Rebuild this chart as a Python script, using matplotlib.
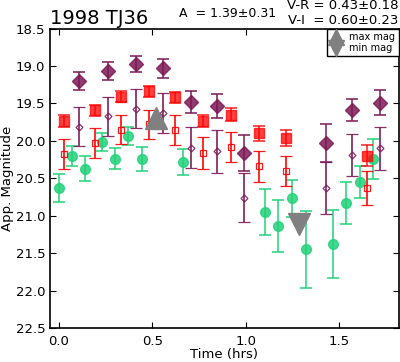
import matplotlib
matplotlib.use("Agg")
import matplotlib.pyplot as plt
import numpy as np

# Green filled circles (V)
t_v = [0.000, 0.070, 0.139, 0.229, 0.302, 0.371, 0.446, 0.666, 1.103, 1.175, 1.250, 1.323, 1.466, 1.536, 1.611, 1.684]
m_v = [20.63, 20.20, 20.37, 20.01, 20.24, 19.94, 20.24, 20.28, 20.95, 21.14, 20.77, 21.45, 21.38, 20.83, 20.55, 20.24]
e_v = [0.19, 0.13, 0.165, 0.12, 0.14, 0.12, 0.16, 0.17, 0.31, 0.35, 0.25, 0.51, 0.45, 0.28, 0.22, 0.27]

# Red filled squares (R) and shifted open squares
t_r = [0.027, 0.191, 0.334, 0.480, 0.623, 0.773, 0.921, 1.070, 1.216, 1.648]
m_r = [19.73, 19.59, 19.41, 19.34, 19.42, 19.73, 19.65, 19.90, 19.96, 20.20]
e_r = [0.08, 0.075, 0.075, 0.07, 0.075, 0.08, 0.09, 0.10, 0.11, 0.14]
m_r2 = [20.17, 20.03, 19.85, 19.78, 19.86, 20.16, 20.08, 20.34, 20.40, 20.63]
e_r2 = [0.20, 0.20, 0.19, 0.195, 0.20, 0.21, 0.20, 0.21, 0.20, 0.23]

# Purple filled diamonds (I) and shifted open diamonds
t_i = [0.106, 0.264, 0.411, 0.557, 0.705, 0.846, 0.993, 1.428, 1.571, 1.721]
m_i = [19.20, 19.07, 18.97, 19.03, 19.48, 19.54, 20.16, 20.03, 19.59, 19.49]
e_i = [0.12, 0.12, 0.11, 0.13, 0.15, 0.16, 0.24, 0.25, 0.15, 0.17]
m_i2 = [19.81, 19.67, 19.57, 19.63, 20.09, 20.14, 20.76, 20.63, 20.19, 20.10]
e_i2 = [0.26, 0.26, 0.26, 0.27, 0.27, 0.29, 0.33, 0.35, 0.28, 0.29]

t_max, m_max = [0.52], [19.70]
t_min, m_min = [1.287], [21.11]

green = '#22d27a'
red = '#ff0000'
purple = '#7d1a57'

fig = plt.figure(figsize=(4.0, 3.62), dpi=100)
ax = fig.add_axes([0.124, 0.094, 0.873, 0.827])

ax.errorbar(t_v, m_v, yerr=e_v, fmt='o', color=green, ms=7, mec=green, capsize=4,
            elinewidth=1.3, capthick=1.3, alpha=0.85, zorder=3)
ax.errorbar(t_r, m_r2, yerr=e_r2, fmt='s', color=red, ms=4, mfc='none', mec=red, mew=0.9,
            capsize=4, elinewidth=1.3, capthick=1.3, alpha=0.9, zorder=3)
ax.errorbar(t_r, m_r, yerr=e_r, fmt='s', color=red, ms=7, mec=red, capsize=4,
            elinewidth=1.3, capthick=1.3, alpha=0.75, zorder=3)
ax.errorbar(t_i, m_i2, yerr=e_i2, fmt='D', color=purple, ms=3.5, mfc='none', mec=purple, mew=0.9,
            capsize=4, elinewidth=1.3, capthick=1.3, alpha=0.9, zorder=3)
ax.errorbar(t_i, m_i, yerr=e_i, fmt='D', color=purple, ms=7, mec=purple, capsize=4,
            elinewidth=1.3, capthick=1.3, alpha=0.85, zorder=3)

ax.plot(t_max, m_max, '^', color='#808080', ms=16, mec='#808080', zorder=4, label='max mag')
ax.plot(t_min, m_min, 'v', color='#808080', ms=16, mec='#808080', zorder=4, label='min mag')

ax.set_xlim(-0.05, 1.82)
ax.set_ylim(22.5, 18.5)
ax.set_xticks([0.0, 0.5, 1.0, 1.5])
ax.set_yticks(np.arange(18.5, 22.51, 0.5))
ax.tick_params(direction='in', top=True, right=True, length=4, width=0.8, labelsize=9.5)
ax.tick_params(axis='y', pad=3)
ax.tick_params(axis='x', pad=5)
for s in ax.spines.values():
    s.set_linewidth(1.2)

ax.set_xlabel('Time (hrs)', fontsize=9.5, labelpad=0)
ax.set_ylabel('App. Magnitude', fontsize=9.5, labelpad=1)

leg = ax.legend(loc='upper right', fontsize=7, numpoints=1, markerscale=0.75,
                labelspacing=0.1, handlelength=1.2, handletextpad=0.8,
                borderaxespad=0, borderpad=0.35, fancybox=False, framealpha=1)
leg.get_frame().set_edgecolor('black')
leg.get_frame().set_linewidth(1.0)

fig.text(0.125, 0.935, '1998 TJ36', fontsize=14, ha='left', va='baseline')
fig.text(0.447, 0.952, 'A  = 1.39\u00b10.31', fontsize=9, ha='left', va='baseline')
fig.text(0.997, 0.975, 'V-R = 0.43\u00b10.18', fontsize=9.5, ha='right', va='baseline')
fig.text(0.997, 0.934, 'V-I  = 0.60\u00b10.23', fontsize=9.5, ha='right', va='baseline')

fig.savefig('out.png', dpi=100)
